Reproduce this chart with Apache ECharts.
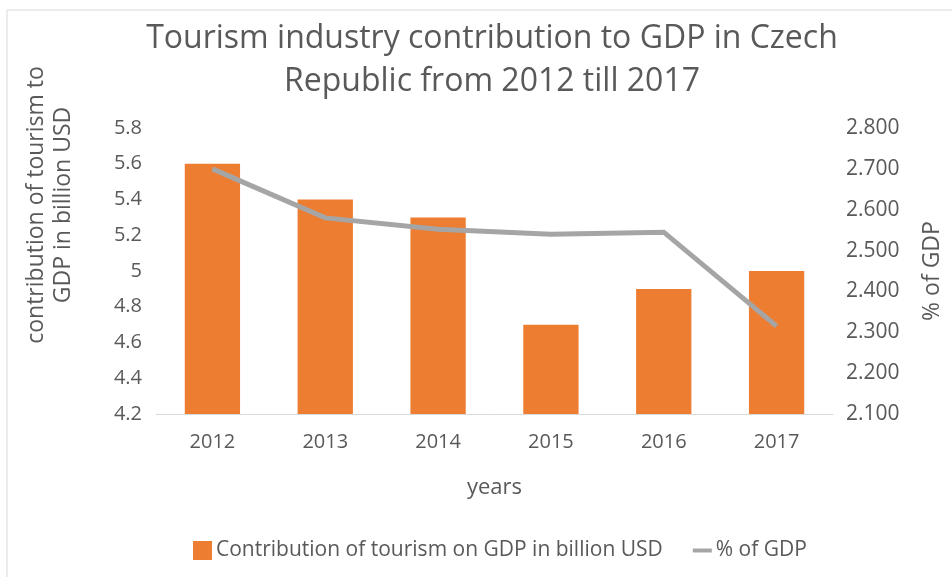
<!DOCTYPE html>
<html>
<head>
<meta charset="utf-8">
<script src="https://cdn.jsdelivr.net/npm/echarts@6/dist/echarts.min.js"></script>
<style>
  html, body { margin: 0; padding: 0; background: #fff; }
  #chart { width: 952px; height: 577px; }
</style>
</head>
<body>
<div id="chart"></div>
<script>
// Czech Republic: tourism contribution to GDP, 2012-2017
const years = ['2012', '2013', '2014', '2015', '2016', '2017'];
const contributionBillionUSD = [5.6, 5.4, 5.3, 4.7, 4.9, 5.0];
const percentOfGDP = [2.70, 2.58, 2.552, 2.54, 2.545, 2.315];

const barName = 'Contribution of tourism on GDP in billion USD';
const lineName = '% of GDP';

const FONT = '"Open Sans", "Noto Sans", sans-serif';
const TEXT = '#595959';

const chart = echarts.init(document.getElementById('chart'));
chart.setOption({
  animation: false,
  backgroundColor: '#fff',
  textStyle: { fontFamily: FONT, color: TEXT },
  title: {
    text: 'Tourism industry contribution to GDP in Czech\nRepublic from 2012 till 2017',
    left: 487,
    textAlign: 'center',
    top: 12,
    textStyle: { fontFamily: FONT, fontSize: 32, fontWeight: 'normal', color: TEXT, lineHeight: 43 }
  },
  legend: {
    top: 535,
    left: 188,
    itemGap: 30,
    itemWidth: 19,
    itemHeight: 19,
    textStyle: { fontFamily: FONT, fontSize: 21, color: TEXT, padding: [0, 0, 0, -1] },
    data: [
      { name: barName, icon: 'rect' },
      { name: lineName, icon: 'path://M0,0 H24 V5 H0 Z' }
    ]
  },
  graphic: [
    // chart frame edges
    { type: 'line', shape: { x1: 7, y1: 10, x2: 952, y2: 10 }, style: { stroke: '#d9d9d9', lineWidth: 1 } },
    { type: 'line', shape: { x1: 7, y1: 10, x2: 7, y2: 577 }, style: { stroke: '#d9d9d9', lineWidth: 1 } },
    // left axis title (two lines)
    {
      type: 'text', x: 50, y: 205, rotation: Math.PI / 2,
      style: {
        text: 'contribution of tourism to\nGDP in billion USD',
        font: '23px ' + FONT, fill: TEXT, align: 'center', verticalAlign: 'middle', lineHeight: 27
      }
    }
  ],
  grid: { left: 156, right: 112, top: 128, bottom: 163 },
  xAxis: {
    type: 'category',
    data: years,
    name: 'years',
    nameLocation: 'middle',
    nameGap: 63,
    nameTextStyle: { fontFamily: FONT, fontSize: 22, color: TEXT },
    axisLine: { lineStyle: { color: '#d9d9d9', width: 1 } },
    axisTick: { show: false },
    axisLabel: { fontFamily: FONT, fontSize: 20, color: TEXT, margin: 18 }
  },
  yAxis: [
    {
      type: 'value',
      min: 4.2, max: 5.8, interval: 0.2,
      axisLine: { show: false },
      axisTick: { show: false },
      splitLine: { show: false },
      axisLabel: {
        fontFamily: FONT, fontSize: 20, color: TEXT, margin: 14,
        formatter: v => String(parseFloat(v.toFixed(1)))
      }
    },
    {
      type: 'value',
      min: 2.1, max: 2.8, interval: 0.1,
      name: '% of GDP',
      nameLocation: 'middle',
      nameRotate: 90,
      nameGap: 88,
      nameTextStyle: { fontFamily: FONT, fontSize: 23, color: TEXT },
      axisLine: { show: false },
      axisTick: { show: false },
      splitLine: { show: false },
      axisLabel: {
        fontFamily: FONT, fontSize: 21, color: TEXT, margin: 13,
        formatter: v => v.toFixed(3)
      }
    }
  ],
  series: [
    {
      name: barName,
      type: 'bar',
      data: contributionBillionUSD,
      yAxisIndex: 0,
      barWidth: '49%',
      itemStyle: { color: '#ED7D31' }
    },
    {
      name: lineName,
      type: 'line',
      data: percentOfGDP,
      yAxisIndex: 1,
      symbol: 'none',
      lineStyle: { color: '#A5A5A5', width: 5, cap: 'butt', join: 'miter' },
      itemStyle: { color: '#A5A5A5' }
    }
  ]
});
</script>
</body>
</html>
